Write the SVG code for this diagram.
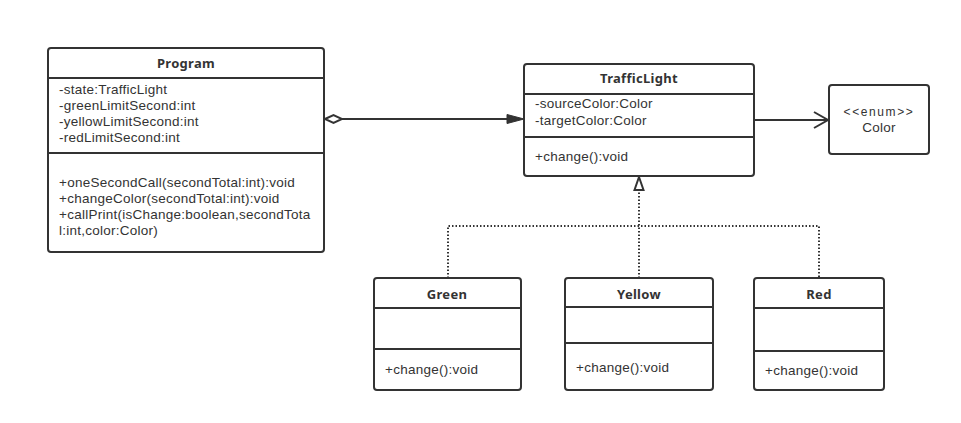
<svg xmlns="http://www.w3.org/2000/svg" width="961" height="423" viewBox="0 0 961 423">
<style>
.box{fill:#fff;stroke:#333;stroke-width:2}
.div{stroke:#333;stroke-width:2}
.t{font-family:"Liberation Sans",Arial,sans-serif;font-size:13.5px;fill:#333;letter-spacing:0.25px}
.b{font-family:"Noto Sans","Liberation Sans",sans-serif;font-size:13px;font-weight:bold;text-anchor:middle;letter-spacing:0.3px}
.c{text-anchor:middle}
.ln{stroke:#333;stroke-width:2;fill:none}
.dot{stroke:#333;stroke-width:2;fill:none;stroke-dasharray:1.5 2}
</style>
<rect width="961" height="423" fill="#fff"/>
<g id="connectors">
<path class="ln" d="M342,119 H508"/>
<polygon points="325,119 333.5,115 342,119 333.5,123" fill="#fff" stroke="#333" stroke-width="2"/>
<polygon points="507,114.5 524,119 507,123.5" fill="#333" stroke="#333" stroke-width="1"/>
<path class="ln" d="M754,120 H827"/>
<path class="ln" d="M814,112 L828,120 L814,128"/>
<path class="dot" d="M448,278 V226 H819 V278"/>
<path class="dot" d="M639,278 V190"/>
<polygon points="639,177 643.5,190 634.5,190" fill="#fff" stroke="#333" stroke-width="2"/>
</g>
<g id="program">
<rect class="box" x="48" y="48" width="276" height="204" rx="3"/>
<line class="div" x1="48" y1="78" x2="324" y2="78"/>
<line class="div" x1="48" y1="153" x2="324" y2="153"/>
<text class="t b" x="186" y="68">Program</text>
<text class="t" x="59" y="94">-state:TrafficLight</text>
<text class="t" x="59" y="110">-greenLimitSecond:int</text>
<text class="t" x="59" y="126">-yellowLimitSecond:int</text>
<text class="t" x="59" y="142">-redLimitSecond:int</text>
<text class="t" x="59" y="187">+oneSecondCall(secondTotal:int):void</text>
<text class="t" x="59" y="203">+changeColor(secondTotal:int):void</text>
<text class="t" x="59" y="219">+callPrint(isChange:boolean,secondTota</text>
<text class="t" x="59" y="235">l:int,color:Color)</text>
</g>
<g id="trafficlight">
<rect class="box" x="524" y="64" width="230" height="112" rx="3"/>
<line class="div" x1="524" y1="94" x2="754" y2="94"/>
<line class="div" x1="524" y1="137" x2="754" y2="137"/>
<text class="t b" x="639" y="83">TrafficLight</text>
<text class="t" x="535" y="108">-sourceColor:Color</text>
<text class="t" x="535" y="125">-targetColor:Color</text>
<text class="t" x="535" y="161">+change():void</text>
</g>
<g id="color">
<rect class="box" x="829" y="85" width="100" height="69" rx="3"/>
<text class="t c" x="879" y="116" style="font-size:12px;letter-spacing:1.6px">&lt;&lt;enum&gt;&gt;</text>
<text class="t c" x="879" y="132">Color</text>
</g>
<g id="green">
<rect class="box" x="374" y="278" width="147" height="112" rx="3"/>
<line class="div" x1="374" y1="308" x2="521" y2="308"/>
<line class="div" x1="374" y1="349" x2="521" y2="349"/>
<text class="t b" x="447" y="299">Green</text>
<text class="t" x="385" y="374">+change():void</text>
</g>
<g id="yellow">
<rect class="box" x="565" y="278" width="148" height="112" rx="3"/>
<line class="div" x1="565" y1="307" x2="713" y2="307"/>
<line class="div" x1="565" y1="343" x2="713" y2="343"/>
<text class="t b" x="639" y="299">Yellow</text>
<text class="t" x="576" y="372">+change():void</text>
</g>
<g id="red">
<rect class="box" x="754" y="278" width="130" height="112" rx="3"/>
<line class="div" x1="754" y1="308" x2="884" y2="308"/>
<line class="div" x1="754" y1="351" x2="884" y2="351"/>
<text class="t b" x="819" y="299">Red</text>
<text class="t" x="765" y="375">+change():void</text>
</g>
</svg>
